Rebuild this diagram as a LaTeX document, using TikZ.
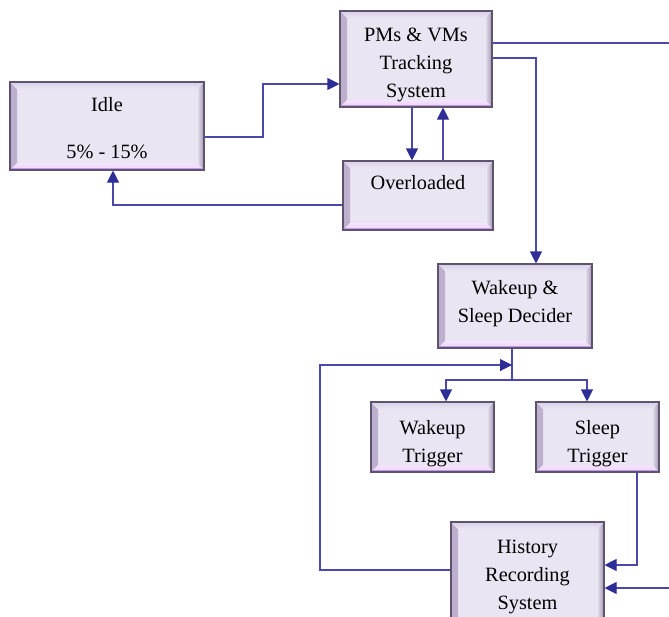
\documentclass[tikz,border=0pt]{standalone}
\usepackage{fontspec}
\setmainfont{Liberation Serif}
\usetikzlibrary{arrows.meta,calc}

\definecolor{facecol}{HTML}{EAE5F3}
\definecolor{edgecol}{HTML}{5E5470}
\definecolor{bevside}{HTML}{BCAECD}
\definecolor{bevtop}{HTML}{D9D0E5}
\definecolor{bevbot}{HTML}{EED2FC}
\definecolor{bevbotline}{HTML}{C49AEC}
\definecolor{linkcol}{HTML}{4A48A8}
\definecolor{tipcol}{HTML}{2E2E96}

% lines of a label, moved down by #1 without changing the box it reports
\newcommand\droptext[2]{\raisebox{-#1}[\height][\depth]{\begin{tabular}{@{}c@{}}#2\end{tabular}}}

\tikzset{
  panel/.style={
    rectangle, draw=edgecol, line width=1.1pt, fill=facecol,
    inner sep=0pt, align=center, text=black,
    font=\fontsize{20.3}{28}\selectfont,
    path picture={
      % bevelled frame: left, right, top and bottom faces
      \shade[left color=bevside, right color=facecol]
        (path picture bounding box.north west) -- (path picture bounding box.south west)
        -- ([shift={(7pt,7pt)}]path picture bounding box.south west)
        -- ([shift={(7pt,-7pt)}]path picture bounding box.north west) -- cycle;
      \shade[right color=bevside!85!black, left color=facecol]
        (path picture bounding box.north east) -- (path picture bounding box.south east)
        -- ([shift={(-7pt,7pt)}]path picture bounding box.south east)
        -- ([shift={(-7pt,-7pt)}]path picture bounding box.north east) -- cycle;
      \shade[top color=bevtop, bottom color=facecol]
        (path picture bounding box.north west) -- (path picture bounding box.north east)
        -- ([shift={(-7pt,-7pt)}]path picture bounding box.north east)
        -- ([shift={(7pt,-7pt)}]path picture bounding box.north west) -- cycle;
      \shade[bottom color=bevbot, top color=bevbot!60!white]
        (path picture bounding box.south west) -- (path picture bounding box.south east)
        -- ([shift={(-7pt,7pt)}]path picture bounding box.south east)
        -- ([shift={(7pt,7pt)}]path picture bounding box.south west) -- cycle;
      \fill[bevbotline]
        (path picture bounding box.south west) rectangle ([yshift=2.5pt]path picture bounding box.south east);
    }
  },
  link/.style={draw=linkcol, line width=1.1pt},
  arr/.style={link, -{Triangle[length=12pt,width=12pt,color=tipcol]}}
}

\begin{document}
\begin{tikzpicture}[x=1pt, y=-1pt]
\useasboundingbox (0,0) rectangle (669,616);

% boxes
\node[panel, minimum width=152pt, minimum height=96pt] (pms) at (416,59)
  {\droptext{5pt}{PMs \& VMs\\Tracking\\System}};
\node[panel, minimum width=194pt, minimum height=88pt] (idle) at (107,126)
  {\droptext{3pt}{Idle\\[19pt]5\% - 15\%}};
\node[panel, minimum width=150pt, minimum height=69pt] (over) at (418,195.5)
  {\droptext{2pt}{Overloaded\\\mbox{}}};
\node[panel, minimum width=154pt, minimum height=84pt] (decider) at (515,306)
  {\droptext{-3pt}{Wakeup \&\\Sleep Decider}};
\node[panel, minimum width=123pt, minimum height=70pt] (wake) at (432.5,437)
  {\droptext{6pt}{Wakeup\\Trigger}};
\node[panel, minimum width=123pt, minimum height=70pt] (sleep) at (597.5,437)
  {\droptext{6pt}{Sleep\\Trigger}};
\node[panel, minimum width=153pt, minimum height=104pt] (hist) at (527.5,574)
  {\droptext{2pt}{History\\Recording\\System}};

% junction points and free ends
\coordinate (split) at (512,380);
\coordinate (loopin) at (512,365);
\coordinate (outtop) at (669,43);
\coordinate (inbot) at (669,588);

% Idle -> tracking system
\draw[arr] (idle.east |- 0,137) -| (263,84) -- (pms.west |- 0,84);
% tracking system <-> overloaded
\draw[arr] (pms.south -| 412,0) -- (over.north -| 412,0);
\draw[arr] (over.north -| 443,0) -- (pms.south -| 443,0);
% overloaded -> idle
\draw[arr] (over.west |- 0,205) -| (idle.south -| 113,0);
% tracking system -> outside
\draw[link] (pms.east |- outtop) -- (outtop);
% tracking system -> decider
\draw[arr] (pms.east |- 0,58) -| (decider.north -| 536,0);
% decider -> triggers
\draw[link] (decider.south -| split) -- (split);
\draw[arr] (split) -| (wake.north -| 446,0);
\draw[arr] (split) -| (sleep.north -| 587,0);
% history feedback loop into the decider branch
\draw[arr] (hist.west |- 0,570) -| (320,365) -- (loopin);
% sleep trigger -> history
\draw[arr] (sleep.south -| 637,0) |- (hist.east |- 0,565);
% outside -> history
\draw[arr] (inbot) -- (hist.east |- inbot);
\end{tikzpicture}
\end{document}
